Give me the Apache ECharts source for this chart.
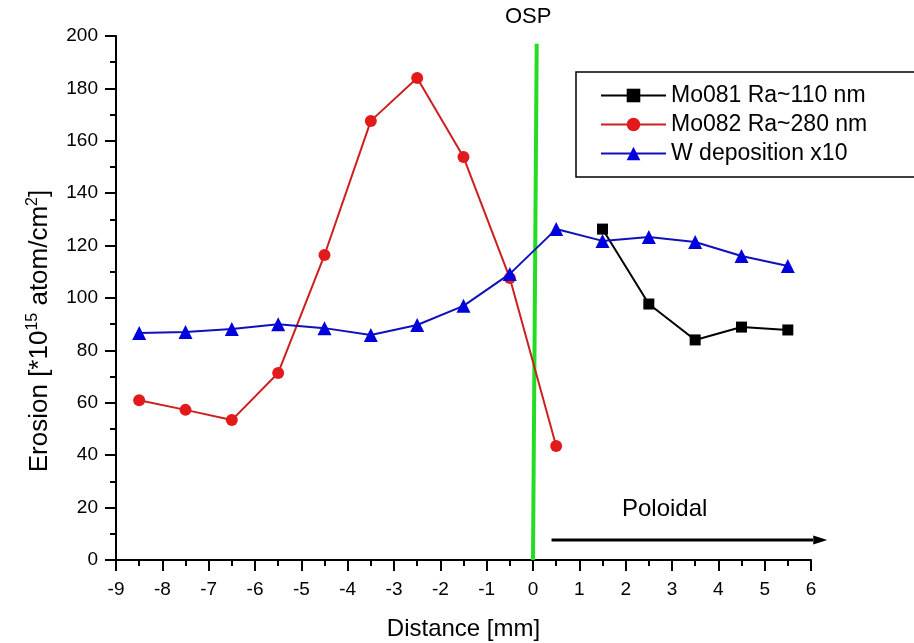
<!DOCTYPE html>
<html><head><meta charset="utf-8">
<script src="https://cdn.jsdelivr.net/npm/echarts@6/dist/echarts.min.js"></script>
<style>html,body{margin:0;padding:0;background:#fff}#c{width:914px;height:643px}</style>
</head><body><div id="c"></div>
<script>
const mo081X = [1.5, 2.5, 3.5, 4.5, 5.5];
const mo081Y = [126.3, 97.7, 84.0, 88.9, 87.8];
const mo082X = [-8.5, -7.5, -6.5, -5.5, -4.5, -3.5, -2.5, -1.5, -0.5, 0.5];
const mo082Y = [61.0, 57.3, 53.4, 71.4, 116.4, 167.6, 184.0, 153.8, 107.6, 43.5];
const wX = [-8.5, -7.5, -6.5, -5.5, -4.5, -3.5, -2.5, -1.5, -0.5, 0.5, 1.5, 2.5, 3.5, 4.5, 5.5];
const wY = [86.6, 87.0, 88.2, 90.0, 88.5, 85.9, 89.7, 97.0, 109.2, 126.3, 121.8, 123.3, 121.4, 116.0, 112.2];
const ospX = [0, 0.08];
const ospY = [0, 197];
const arrowX = [0.4, 6.2];
const arrowY = [7.6, 7.6];
const names = ['Mo081 Ra~110 nm', 'Mo082 Ra~280 nm', 'W deposition x10'];

const zip = (a, b) => a.map((v, i) => [v, b[i]]);
const font = 'Liberation Sans, Arial, sans-serif';
const chart = echarts.init(document.getElementById('c'));
chart.setOption({
  animation: false,
  backgroundColor: '#fff',
  textStyle: { fontFamily: font },
  grid: { left: 116, right: 103, top: 36, bottom: 83, containLabel: false, outerBoundsMode: 'none' },
  xAxis: {
    type: 'value', min: -9, max: 6, interval: 1,
    axisLine: { onZero: false, lineStyle: { color: '#000', width: 2 } },
    axisTick: { inside: false, length: 11, lineStyle: { color: '#000', width: 2 } },
    minorTick: { show: true, splitNumber: 2, length: 6, lineStyle: { color: '#000', width: 2 } },
    splitLine: { show: false },
    axisLabel: { color: '#000', fontSize: 19, margin: 20, fontFamily: font },
    name: 'Distance [mm]', nameLocation: 'middle', nameGap: 57,
    nameTextStyle: { color: '#000', fontSize: 24, fontFamily: font }
  },
  yAxis: {
    type: 'value', min: 0, max: 200, interval: 20,
    axisLine: { show: true, onZero: false, lineStyle: { color: '#000', width: 2 } },
    axisTick: { show: true, inside: false, length: 11, lineStyle: { color: '#000', width: 2 } },
    minorTick: { show: true, splitNumber: 2, length: 6, lineStyle: { color: '#000', width: 2 } },
    splitLine: { show: false },
    axisLabel: { color: '#000', fontSize: 19, margin: 18, fontFamily: font }
  },
  legend: {
    orient: 'vertical', left: 576, top: 72,
    data: names,
    borderColor: '#000', borderWidth: 1.5,
    padding: [12, 48, 12, 24],
    itemGap: 6, itemWidth: 65, itemHeight: 17,
    textStyle: { color: '#000', fontSize: 23, fontFamily: font }
  },
  graphic: [
    { type: 'text', left: 505, top: 6, style: { text: 'OSP', fontSize: 22, fill: '#000', fontFamily: font } },
    { type: 'text', left: 622, top: 497, style: { text: 'Poloidal', fontSize: 24, fill: '#000', fontFamily: font } },
    {
      type: 'text', x: 40, y: 331, rotation: Math.PI / 2,
      style: {
        text: '{n|Erosion [*10}{s|15}{n| atom/cm}{s|2}{n|]}',
        align: 'center', verticalAlign: 'middle',
        rich: {
          n: { fontSize: 26, fill: '#000', fontFamily: font },
          s: { fontSize: 16, fill: '#000', fontFamily: font, verticalAlign: 'top', padding: [0, 0, 14, 0] }
        }
      }
    }
  ],
  series: [
    {
      name: 'OSP', type: 'line', data: zip(ospX, ospY), symbol: 'none',
      lineStyle: { color: '#22dd22', width: 4 }, z: 1, silent: true
    },
    {
      name: 'arrow', type: 'line', clip: false, silent: true,
      data: [
        { value: [arrowX[0], arrowY[0]], symbol: 'none' },
        { value: [arrowX[1], arrowY[1]], symbol: 'triangle', symbolSize: [9, 14], symbolRotate: -90 }
      ],
      showAllSymbol: true,
      itemStyle: { color: '#000' },
      lineStyle: { color: '#000', width: 3 }, z: 2
    },
    {
      name: names[0], type: 'line', data: zip(mo081X, mo081Y),
      symbol: 'rect', symbolSize: 11,
      itemStyle: { color: '#000' }, lineStyle: { color: '#000', width: 2 }, z: 3
    },
    {
      name: names[1], type: 'line', data: zip(mo082X, mo082Y),
      symbol: 'circle', symbolSize: 12,
      itemStyle: { color: '#e31a1c' }, lineStyle: { color: '#cc1f1f', width: 2 }, z: 3
    },
    {
      name: names[2], type: 'line', data: zip(wX, wY),
      symbol: 'triangle', symbolSize: 14,
      itemStyle: { color: '#0000dd' }, lineStyle: { color: '#1010bb', width: 2 }, z: 4
    }
  ]
});
</script></body></html>
